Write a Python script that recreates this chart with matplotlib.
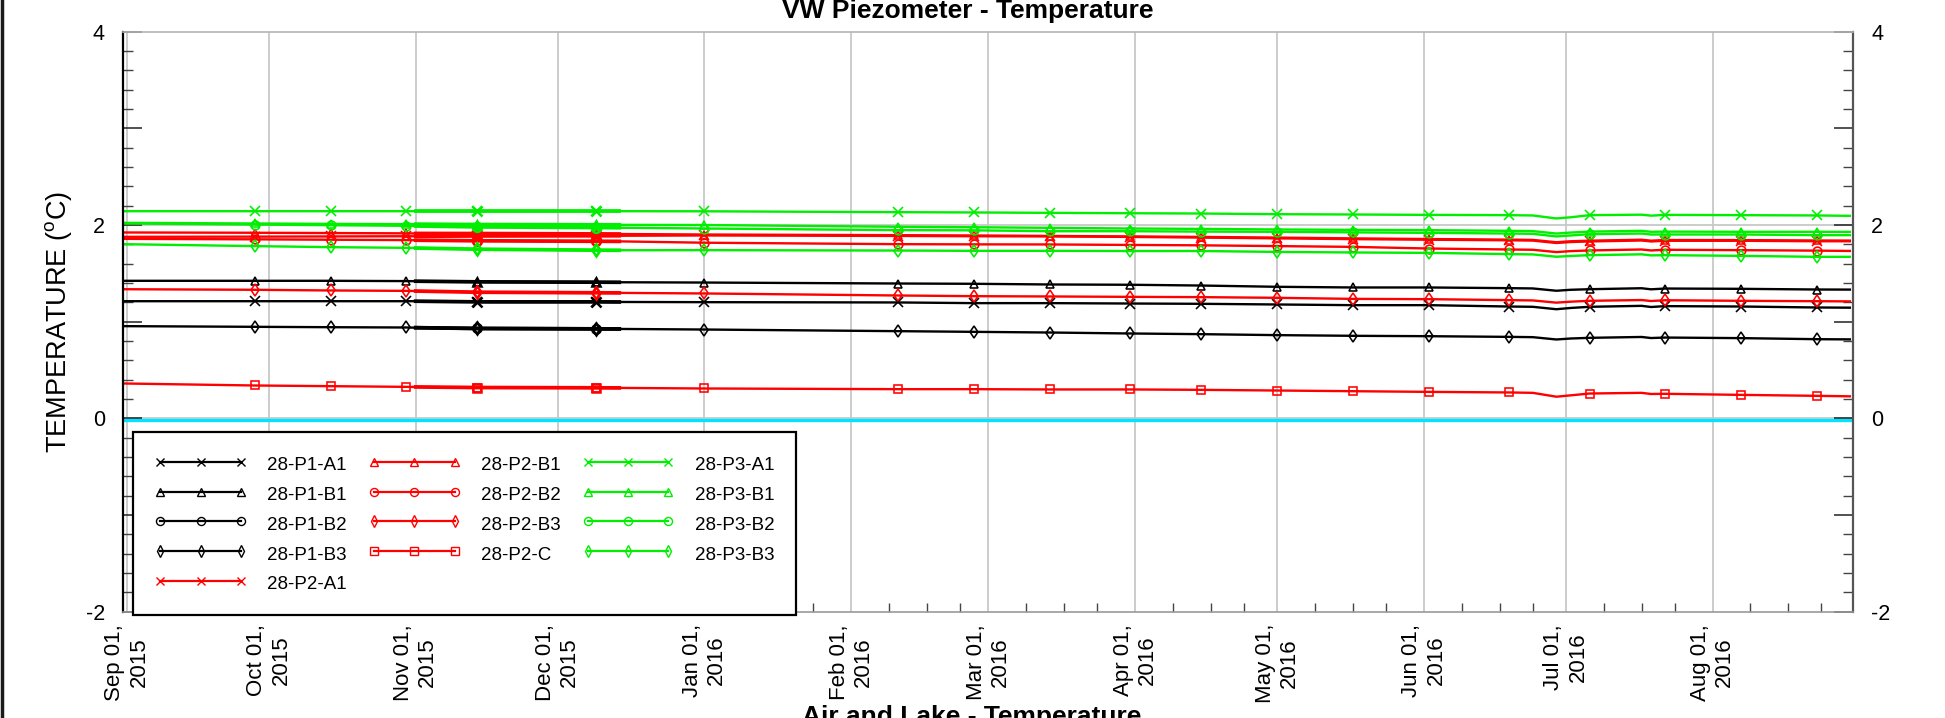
import matplotlib
matplotlib.use('Agg')
import matplotlib.pyplot as plt
import matplotlib.dates as mdates
from matplotlib.ticker import MultipleLocator, FixedLocator, FixedFormatter
from matplotlib.lines import Line2D
import pandas as pd

plt.rcParams['font.family'] = ['Liberation Sans', 'DejaVu Sans']

# ---------------- data ----------------
dates = ['2015-08-31', '2015-09-28', '2015-10-14', '2015-10-30', '2015-11-01',
         '2015-11-14', '2015-12-09', '2015-12-14', '2016-01-01', '2016-02-11',
         '2016-02-27', '2016-03-14', '2016-03-31', '2016-04-15', '2016-05-01',
         '2016-05-17', '2016-06-02', '2016-06-19', '2016-06-24', '2016-06-29',
         '2016-07-02', '2016-07-06', '2016-07-17', '2016-07-19', '2016-07-22',
         '2016-08-07', '2016-08-23', '2016-08-30']
marker_idx = [1, 2, 3, 5, 6, 8, 9, 10, 11, 12, 13, 14, 15, 16, 17, 21, 24, 25, 26]
overlap_idx = [4, 5, 6, 7]

p1_a1 = [1.210, 1.210, 1.210, 1.210, 1.210, 1.203, 1.203, 1.202, 1.200, 1.197,
         1.190, 1.190, 1.186, 1.183, 1.176, 1.169, 1.169, 1.155, 1.152, 1.127,
         1.140, 1.152, 1.162, 1.150, 1.159, 1.155, 1.145, 1.143]
p1_b1 = [1.421, 1.421, 1.421, 1.418, 1.417, 1.410, 1.407, 1.406, 1.403, 1.393,
         1.390, 1.383, 1.380, 1.372, 1.359, 1.352, 1.352, 1.345, 1.342, 1.318,
         1.328, 1.334, 1.344, 1.333, 1.341, 1.338, 1.331, 1.330]
p1_b2_dates = ['2015-11-01', '2015-11-14', '2015-12-09', '2015-12-14']
p1_b2 = [0.936, 0.928, 0.924, 0.923]
p1_b3 = [0.952, 0.945, 0.941, 0.938, 0.936, 0.928, 0.924, 0.923, 0.917, 0.900,
         0.893, 0.886, 0.876, 0.869, 0.859, 0.852, 0.848, 0.841, 0.838, 0.814,
         0.824, 0.831, 0.840, 0.829, 0.834, 0.828, 0.817, 0.815]
p2_a1 = [1.876, 1.878, 1.880, 1.882, 1.882, 1.885, 1.887, 1.887, 1.890, 1.885,
         1.882, 1.880, 1.875, 1.868, 1.860, 1.852, 1.846, 1.840, 1.837, 1.812,
         1.822, 1.828, 1.838, 1.828, 1.835, 1.835, 1.830, 1.830]
p2_b1 = [1.921, 1.918, 1.915, 1.912, 1.911, 1.910, 1.906, 1.905, 1.900, 1.893,
         1.890, 1.885, 1.880, 1.875, 1.868, 1.860, 1.853, 1.847, 1.844, 1.820,
         1.830, 1.836, 1.846, 1.836, 1.843, 1.842, 1.838, 1.837]
p2_b2 = [1.855, 1.850, 1.846, 1.842, 1.841, 1.835, 1.830, 1.829, 1.815, 1.800,
         1.798, 1.797, 1.792, 1.788, 1.780, 1.772, 1.755, 1.745, 1.742, 1.718,
         1.728, 1.735, 1.745, 1.735, 1.742, 1.738, 1.733, 1.730]
p2_b3 = [1.334, 1.328, 1.321, 1.317, 1.315, 1.303, 1.297, 1.296, 1.290, 1.269,
         1.262, 1.259, 1.255, 1.252, 1.245, 1.234, 1.231, 1.221, 1.218, 1.195,
         1.205, 1.214, 1.222, 1.212, 1.220, 1.214, 1.210, 1.208]
p2_c = [0.359, 0.338, 0.331, 0.324, 0.323, 0.317, 0.314, 0.313, 0.307, 0.300,
        0.300, 0.297, 0.297, 0.293, 0.286, 0.279, 0.272, 0.266, 0.262, 0.222,
        0.236, 0.255, 0.262, 0.250, 0.252, 0.241, 0.231, 0.226]
p3_a1 = [2.141, 2.141, 2.141, 2.141, 2.141, 2.141, 2.141, 2.141, 2.140, 2.131,
         2.128, 2.124, 2.120, 2.117, 2.110, 2.107, 2.103, 2.100, 2.097, 2.066,
         2.078, 2.100, 2.105, 2.095, 2.103, 2.100, 2.097, 2.093]
p3_b1 = [2.021, 2.014, 2.010, 2.007, 2.007, 2.003, 2.000, 2.000, 1.998, 1.980,
         1.975, 1.969, 1.962, 1.958, 1.952, 1.948, 1.945, 1.938, 1.935, 1.910,
         1.920, 1.930, 1.938, 1.928, 1.930, 1.928, 1.928, 1.927]
p3_b2 = [2.014, 2.003, 1.996, 1.990, 1.988, 1.979, 1.972, 1.970, 1.962, 1.945,
         1.943, 1.934, 1.934, 1.930, 1.928, 1.922, 1.917, 1.910, 1.907, 1.880,
         1.890, 1.903, 1.910, 1.900, 1.900, 1.900, 1.893, 1.893]
p3_b3 = [1.800, 1.780, 1.769, 1.762, 1.760, 1.748, 1.738, 1.737, 1.738, 1.734,
         1.731, 1.731, 1.729, 1.729, 1.720, 1.714, 1.710, 1.697, 1.694, 1.670,
         1.678, 1.686, 1.695, 1.684, 1.686, 1.679, 1.669, 1.669]

lake_dates = ['2015-08-31', '2016-08-30']
lake_values = [-0.02, -0.02]

tick_dates = ['2015-09-01', '2015-10-01', '2015-11-01', '2015-12-01', '2016-01-01',
              '2016-02-01', '2016-03-01', '2016-04-01', '2016-05-01', '2016-06-01',
              '2016-07-01', '2016-08-01']
tick_labels = ['Sep 01,\n2015', 'Oct 01,\n2015', 'Nov 01,\n2015', 'Dec 01,\n2015',
               'Jan 01,\n2016', 'Feb 01,\n2016', 'Mar 01,\n2016', 'Apr 01,\n2016',
               'May 01,\n2016', 'Jun 01,\n2016', 'Jul 01,\n2016', 'Aug 01,\n2016']
ytick_values = [-2, -1, 0, 1, 2, 3, 4]
ytick_labels = ['-2', '', '0', '', '2', '', '4']
ygrid_values = [0, 2]

BLACK, RED, GREEN = '#000000', '#ff0000', '#00ee00'
series = [
    ('28-P1-A1', dates, p1_a1, BLACK, 'x'),
    ('28-P1-B1', dates, p1_b1, BLACK, '^'),
    ('28-P1-B2', p1_b2_dates, p1_b2, BLACK, 'o'),
    ('28-P1-B3', dates, p1_b3, BLACK, 'd'),
    ('28-P2-A1', dates, p2_a1, RED, 'x'),
    ('28-P2-B1', dates, p2_b1, RED, '^'),
    ('28-P2-B2', dates, p2_b2, RED, 'o'),
    ('28-P2-B3', dates, p2_b3, RED, 'd'),
    ('28-P2-C', dates, p2_c, RED, 's'),
    ('28-P3-A1', dates, p3_a1, GREEN, 'x'),
    ('28-P3-B1', dates, p3_b1, GREEN, '^'),
    ('28-P3-B2', dates, p3_b2, GREEN, 'o'),
    ('28-P3-B3', dates, p3_b3, GREEN, 'd'),
]

# ---------------- figure ----------------
W, H = 1945, 718
fig = plt.figure(figsize=(W / 100, H / 100), dpi=100)
ax_l, ax_r, ax_t, ax_b = 123, 1853, 31.5, 611.5
ax = fig.add_axes([ax_l / W, 1 - ax_b / H, (ax_r - ax_l) / W, (ax_b - ax_t) / H])

x_min = pd.Timestamp('2015-08-31 03:40')
x_max = pd.Timestamp('2016-08-30 16:00')

# grid
for d in tick_dates:
    ax.axvline(pd.Timestamp(d), color='#c8c8c8', lw=1.3, zorder=0)
for v in ygrid_values:
    ax.axhline(v, color='#c8c8c8', lw=1.3, zorder=0)

# lake / reference line
ax.plot(pd.to_datetime(lake_dates), lake_values, color='#00e5ff', lw=2.4, zorder=1)

handles = []
for name, dts, vals, col, mk in series:
    dd = pd.to_datetime(dts)
    ms = 7 if mk == 'x' else 6.3
    if name == '28-P1-B2':
        ln, = ax.plot(dd, vals, color=col, lw=2.6, marker=mk, ms=ms, mfc='none',
                      mew=1.6, markevery=[1, 2], label=name, zorder=2)
    else:
        ln, = ax.plot(dd, vals, color=col, lw=1.7, marker=mk, ms=ms, mfc='none',
                      mew=1.15, markevery=marker_idx, label=name, zorder=2)
        ov = overlap_idx
        ax.plot(dd[ov[0]:ov[-1] + 1], vals[ov[0]:ov[-1] + 1], color=col, lw=2.7,
                marker=mk, ms=ms, mfc='none', mew=1.8, markevery=[1, 2], zorder=2)
    handles.append(ln)

ax.set_xlim(x_min, x_max)
ax.set_ylim(-2, 4)

# x ticks
ax.xaxis.set_major_locator(FixedLocator(mdates.date2num(pd.to_datetime(tick_dates))))
ax.xaxis.set_major_formatter(FixedFormatter(tick_labels))
ax.xaxis.set_minor_locator(mdates.DayLocator(bymonthday=[9, 17, 24]))
ax.tick_params(axis='x', which='major', length=0, pad=9, labelsize=16,
               labelrotation=90)
ax.tick_params(axis='x', which='minor', direction='in', length=6.5, width=1,
               color='#444444', top=False)

# y ticks
ax.yaxis.set_major_locator(FixedLocator(ytick_values))
ax.yaxis.set_major_formatter(FixedFormatter(ytick_labels))
ax.yaxis.set_minor_locator(MultipleLocator(0.2))
ax.tick_params(axis='y', which='major', direction='in', length=13.5, width=1.1,
               left=True, right=True, labelleft=True, labelright=True,
               labelsize=15.5, pad=13, color='#222222')
ax.tick_params(axis='y', which='minor', direction='in', length=7, width=1,
               left=True, right=True, color='#444444')

for lbl in ax.get_xticklabels():
    lbl.set_multialignment('center')

# spines
ax.spines['left'].set_color('#000000')
ax.spines['left'].set_linewidth(1.6)
ax.spines['right'].set_color('#555555')
ax.spines['right'].set_linewidth(1.6)
ax.spines['top'].set_color('#b4b4b4')
ax.spines['top'].set_linewidth(1.2)
ax.spines['bottom'].set_color('#999999')
ax.spines['bottom'].set_linewidth(1.2)

ax.set_ylabel(r'TEMPERATURE ($\mathregular{^{o}}$C)', fontsize=19.5)
ax.yaxis.set_label_coords(-0.0285, 0.5)

# legend
leg = ax.legend(handles=handles, ncol=3, loc='lower left',
                bbox_to_anchor=(0.0058, -0.006), borderaxespad=0,
                fontsize=13.5, numpoints=3, handlelength=4.9, handletextpad=1.1,
                columnspacing=1.15, labelspacing=0.50, borderpad=1.15,
                handleheight=1.3,
                fancybox=False, framealpha=1, edgecolor='#000000')
leg.get_frame().set_linewidth(1.6)
leg.set_zorder(5)
for h in leg.legend_handles:
    h.set_linewidth(1.6)
    h.set_markeredgewidth(1.0)
    h.set_markersize(5.8)

# titles
fig.text(968 / W, 1 - 18 / H, 'VW Piezometer - Temperature', ha='center',
         va='baseline', fontsize=19, fontweight='bold')
fig.text(972 / W, 1 - 705 / H, 'Air and Lake - Temperature', ha='center',
         va='top', fontsize=19, fontweight='bold')

# page border line on the left
fig.add_artist(Line2D([1.5 / W, 1.5 / W], [0, 1], transform=fig.transFigure,
                      color='#1a1a1a', lw=2.5))

fig.savefig('out.png', dpi=100)
